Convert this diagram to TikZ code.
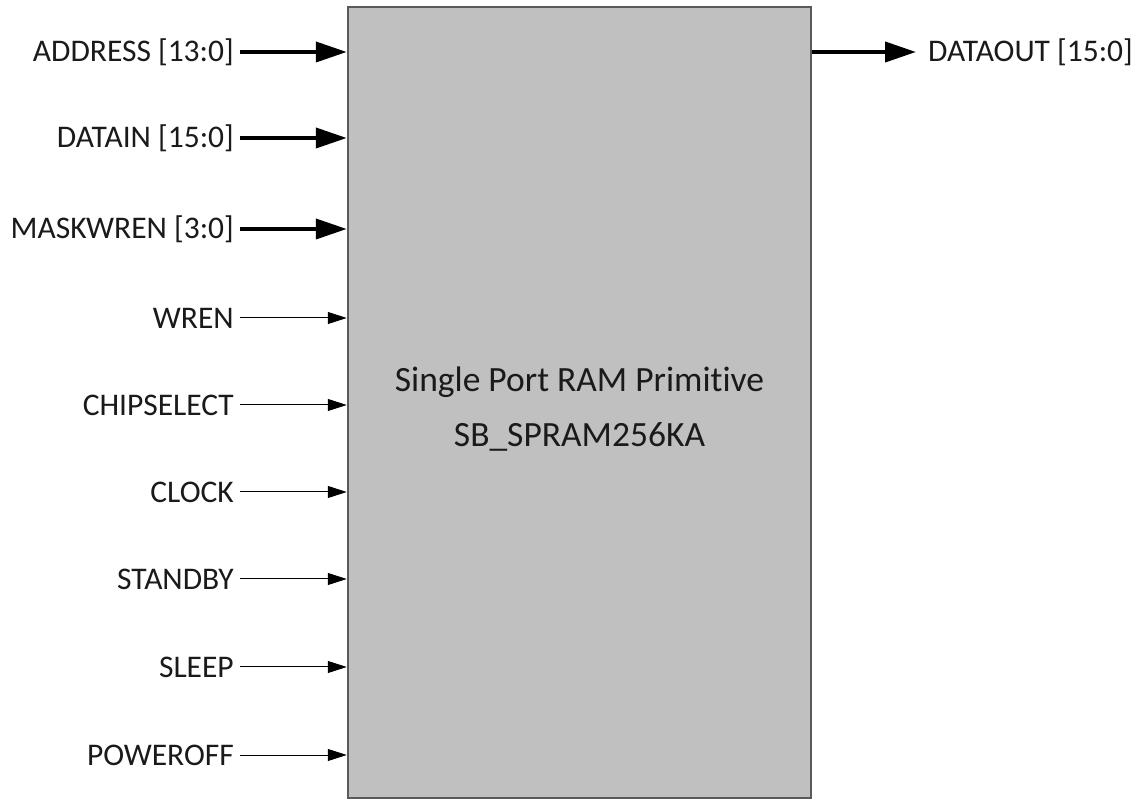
\documentclass[tikz,border=0pt]{standalone}
\usepackage{fontspec}
\setmainfont{Carlito}[Ligatures=NoCommon]
\usetikzlibrary{arrows.meta}
\definecolor{boxfill}{HTML}{C0C0C0}
\definecolor{boxline}{HTML}{5A5A5A}
\definecolor{txt}{HTML}{1A1A1A}
\begin{document}
\begin{tikzpicture}[x=1pt,y=1pt,
  lab/.style={anchor=east,inner sep=0pt,text=txt,font=\fontsize{31.5}{34}\selectfont},
  outlab/.style={anchor=west,inner sep=0pt,text=txt,font=\fontsize{31.5}{34}\selectfont},
  bus/.style={line width=4pt,-{Triangle[length=31pt,width=20pt]}},
  sig/.style={line width=1pt,-{Triangle[length=19pt,width=12pt]}},
  ram/.style={draw=boxline,fill=boxfill,line width=2.5pt,minimum width=463pt,minimum height=791pt,inner sep=0pt}]
\useasboundingbox (0,0) rectangle (1141,801);
\node[ram] (box) at (579.5,398.5) {};
\node[text=txt,align=center,font=\fontsize{35.5}{55}\selectfont] (title) at (579.5,392) {Single Port RAM Primitive\\SB\_SPRAM256KA};
\node[lab] (addr) at (234,749) {ADDRESS [13:0]};
\node[lab] (din) at (234,663) {DATAIN [15:0]};
\node[lab] (mask) at (234,572) {MASKWREN [3:0]};
\node[lab] (wren) at (234,483) {WREN};
\node[lab] (cs) at (234,396) {CHIPSELECT};
\node[lab] (clk) at (234,309) {CLOCK};
\node[lab] (stby) at (234,222) {STANDBY};
\node[lab] (slp) at (234,134) {SLEEP};
\node[lab] (poff) at (234,46) {POWEROFF};
\node[outlab] (dout) at (928,749) {DATAOUT [15:0]};
\draw[bus] (addr.east) ++(6,0) -- (addr -| box.west);
\draw[bus] (din.east) ++(6,0) -- (din -| box.west);
\draw[bus] (mask.east) ++(6,0) -- (mask -| box.west);
\draw[sig] (wren.east) ++(6,0) -- (wren -| box.west);
\draw[sig] (cs.east) ++(6,0) -- (cs -| box.west);
\draw[sig] (clk.east) ++(6,0) -- (clk -| box.west);
\draw[sig] (stby.east) ++(6,0) -- (stby -| box.west);
\draw[sig] (slp.east) ++(6,0) -- (slp -| box.west);
\draw[sig] (poff.east) ++(6,0) -- (poff -| box.west);
\draw[bus] (dout -| box.east) -- ([xshift=-12pt]dout.west);
\end{tikzpicture}
\end{document}
